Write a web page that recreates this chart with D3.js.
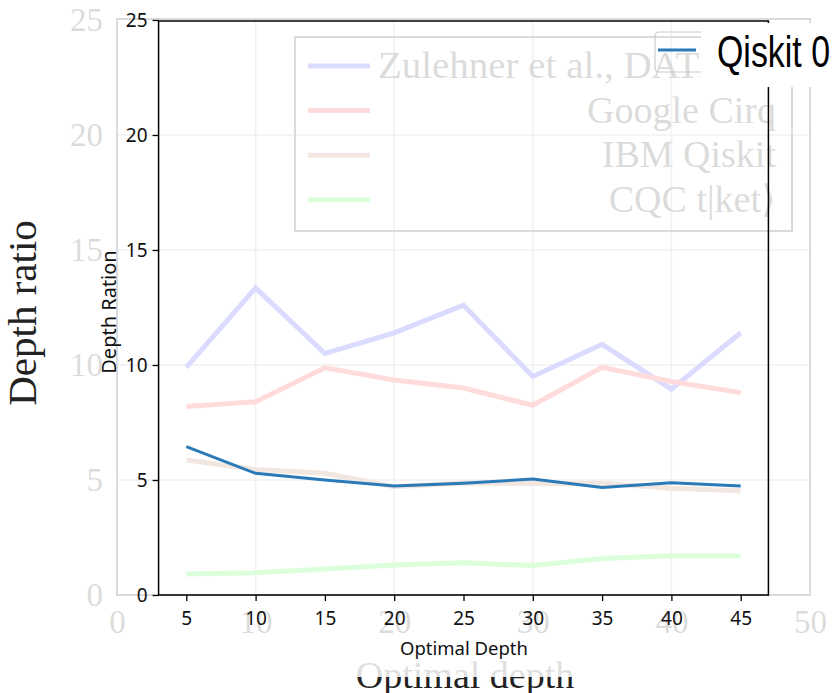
<!DOCTYPE html>
<html>
<head>
<meta charset="utf-8">
<script src="https://d3js.org/d3.v7.min.js"></script>
<style>
  body { margin: 0; background: #fff; }
</style>
</head>
<body>
<div id="viz"></div>
<script>

// values
var depths = [5, 10, 15, 20, 25, 30, 35, 40, 45];
var zulehner = [9.9, 13.35, 10.5, 11.4, 12.6, 9.5, 10.9, 8.95, 11.4];
var cirq = [8.2, 8.4, 9.88, 9.35, 9.0, 8.25, 9.9, 9.28, 8.8];
var ibmQiskit = [5.87, 5.46, 5.29, 4.71, 4.87, 4.85, 4.86, 4.64, 4.53];
var tket = [0.91, 0.97, 1.13, 1.3, 1.4, 1.28, 1.59, 1.71, 1.71];
var qiskit0 = [6.45, 5.29, 5.0, 4.74, 4.86, 5.04, 4.67, 4.88, 4.74];

var bgNames = ["Zulehner et al., DATE", "Google Cirq", "IBM Qiskit", "CQC t|ket\u27E9"];
var bgColors = ["#0000ff", "#ff0000", "#a0522d", "#00ff00"];
var fgName = "Qiskit 0";

var bgXTicks = [0, 10, 20, 30, 40, 50];
var bgYTicks = [0, 5, 10, 15, 20, 25];
var fgYTicks = [0, 5, 10, 15, 20, 25];

var width = 832, height = 693;

var svg = d3.select("#viz")
  .append("svg")
    .attr("width", width)
    .attr("height", height);

// both plots share the same data coordinates
var x = d3.scaleLinear().domain([0, 50]).range([117, 810]);
var y = d3.scaleLinear().domain([0, 25]).range([595, 20]);

var line = d3.line()
  .x(function(d) { return x(d[0]); })
  .y(function(d) { return y(d[1]); });

// ---------- background plot ----------
var bg = svg.append("g");

// grid
bg.selectAll("vgrid")
  .data(bgXTicks.slice(1, -1))
  .enter().append("line")
    .attr("x1", function(d) { return x(d); })
    .attr("x2", function(d) { return x(d); })
    .attr("y1", y(25)).attr("y2", y(0))
    .attr("stroke", "#999").attr("stroke-width", 1.5);
bg.selectAll("hgrid")
  .data(bgYTicks.slice(1, -1))
  .enter().append("line")
    .attr("y1", function(d) { return y(d); })
    .attr("y2", function(d) { return y(d); })
    .attr("x1", x(0)).attr("x2", x(50))
    .attr("stroke", "#999").attr("stroke-width", 1.5);

var bgSeries = [zulehner, cirq, ibmQiskit, tket];
bg.selectAll("bgLines")
  .data(bgSeries)
  .enter().append("path")
    .attr("d", function(s) { return line(depths.map(function(d, i) { return [d, s[i]]; })); })
    .attr("stroke", function(s, i) { return bgColors[i]; })
    .attr("stroke-width", 5)
    .attr("fill", "none");

bg.append("rect")
  .attr("x", x(0)).attr("y", y(25) - 1)
  .attr("width", x(50) - x(0)).attr("height", y(0) - y(25) + 1)
  .attr("fill", "none").attr("stroke", "#000").attr("stroke-width", 2);

var bgx = bg.append("g")
  .attr("transform", "translate(0," + y(0) + ")")
  .call(d3.axisBottom(x).tickValues(bgXTicks).tickSize(0).tickPadding(15));
var bgy = bg.append("g")
  .attr("transform", "translate(" + x(0) + ",0)")
  .call(d3.axisLeft(y).tickValues(bgYTicks).tickSize(0).tickPadding(14));
[bgx, bgy].forEach(function(a) {
  a.select(".domain").remove();
  a.selectAll("text")
    .style("font-family", "'Liberation Serif', serif")
    .style("font-size", "33px")
    .attr("fill", "#000");
});

// legend of the background plot
bg.append("rect")
  .attr("x", 295).attr("y", 37).attr("width", 497).attr("height", 194)
  .attr("fill", "none").attr("stroke", "#000").attr("stroke-width", 2);
var bgLeg = bg.selectAll("bgLegend")
  .data(bgNames)
  .enter().append("g")
    .attr("transform", function(d, i) { return "translate(0," + (66 + i * 44.6) + ")"; });
bgLeg.append("line")
  .attr("x1", 308).attr("x2", 370)
  .attr("stroke", function(d, i) { return bgColors[i]; })
  .attr("stroke-width", 5);
bgLeg.append("text")
  .attr("x", function(d, i) { return i == 0 ? 378 : 776; })
  .attr("y", 12)
  .attr("text-anchor", function(d, i) { return i == 0 ? "start" : "end"; })
  .style("font-family", "'Liberation Serif', serif")
  .style("font-size", "38px")
  .attr("fill", "#000")
  .text(function(d) { return d; });
// first label is wider in the original face
bgLeg.filter(function(d, i) { return i == 0; }).select("text")
  .attr("textLength", 345)
  .attr("lengthAdjust", "spacingAndGlyphs");

bg.append("text")
  .attr("transform", "translate(36,313) rotate(-90)")
  .attr("text-anchor", "middle")
  .style("font-family", "'Liberation Serif', serif")
  .style("font-size", "41px")
  .attr("fill", "#222")
  .text("Depth ratio");
bg.append("text")
  .attr("x", 465).attr("y", 688)
  .attr("text-anchor", "middle")
  .style("font-family", "'Liberation Serif', serif")
  .style("font-size", "38px")
  .attr("fill", "#222")
  .text("Optimal depth");

// faded look of the background plot
svg.append("rect")
  .attr("x", 50).attr("y", 0).attr("width", width - 50).attr("height", 677)
  .attr("fill", "#fff").attr("opacity", 0.86);

// ---------- foreground plot ----------
var fg = svg.append("g");

fg.append("path")
  .attr("d", line(depths.map(function(d, i) { return [d, qiskit0[i]]; })))
  .attr("stroke", "#2a7ab8")
  .attr("stroke-width", 3)
  .attr("fill", "none");

fg.append("rect")
  .attr("x", x(3)).attr("y", y(25) + 1)
  .attr("width", x(47) - x(3)).attr("height", y(0) - y(25) - 1)
  .attr("fill", "none").attr("stroke", "#000").attr("stroke-width", 1.5);

var fgx = fg.append("g")
  .attr("transform", "translate(0," + y(0) + ")")
  .call(d3.axisBottom(x).tickValues(depths).tickSize(6).tickSizeOuter(0).tickPadding(11));
var fgy = fg.append("g")
  .attr("transform", "translate(" + x(3) + ",0)")
  .call(d3.axisLeft(y).tickValues(fgYTicks).tickSize(6).tickSizeOuter(0).tickPadding(5));
[fgx, fgy].forEach(function(a) {
  a.select(".domain").remove();
  a.selectAll("line").attr("stroke", "#000").attr("stroke-width", 1.3);
  a.selectAll("text")
    .style("font-family", "'Noto Sans', sans-serif")
    .style("font-size", "19px")
    .attr("fill", "#111");
});

fg.append("text")
  .attr("transform", "translate(116,312) rotate(-90)")
  .attr("text-anchor", "middle")
  .style("font-family", "'Noto Sans', sans-serif")
  .style("font-size", "20px")
  .attr("fill", "#111")
  .text("Depth Ration");
fg.append("text")
  .attr("x", 464).attr("y", 655)
  .attr("text-anchor", "middle")
  .style("font-family", "'Noto Sans', sans-serif")
  .style("font-size", "18.5px")
  .attr("fill", "#111")
  .text("Optimal Depth");

// legend
fg.append("rect")
  .attr("x", 655).attr("y", 32).attr("width", 200).attr("height", 40).attr("rx", 4)
  .attr("fill", "none").attr("stroke", "#ccc").attr("stroke-width", 1.2);
fg.append("line")
  .attr("x1", 658).attr("x2", 696).attr("y1", 50).attr("y2", 50)
  .attr("stroke", "#2a7ab8").attr("stroke-width", 3);

// label patch pasted over the corner
fg.append("rect")
  .attr("x", 701).attr("y", 23).attr("width", width - 701).attr("height", 64)
  .attr("fill", "#fff");
fg.append("text")
  .attr("x", 717).attr("y", 67)
  .attr("textLength", 113)
  .attr("lengthAdjust", "spacingAndGlyphs")
  .style("font-family", "'Liberation Sans Narrow', 'Liberation Sans', Arial, sans-serif")
  .style("font-size", "44px")
  .attr("fill", "#000")
  .text(fgName);

</script>
</body>
</html>
